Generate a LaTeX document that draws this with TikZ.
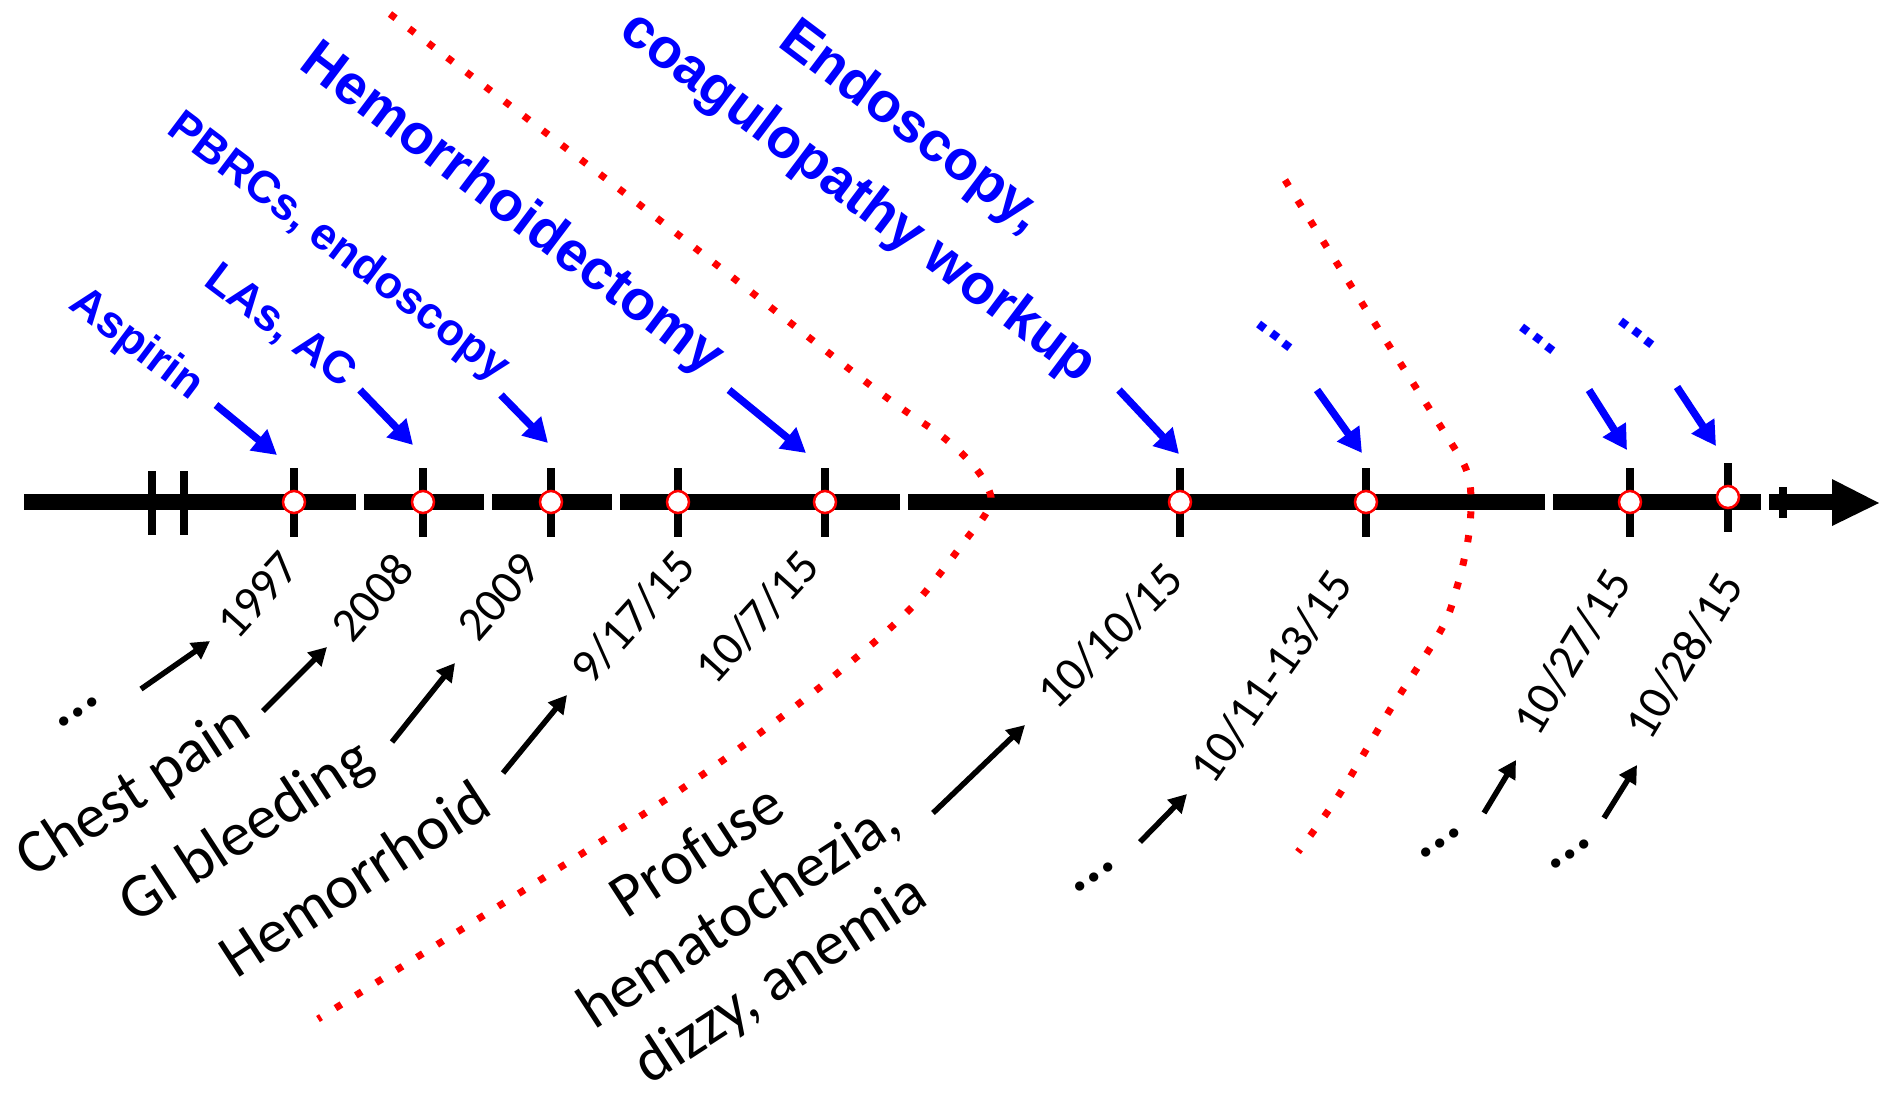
\documentclass[tikz,border=0pt]{standalone}
\usepackage{fontspec}
\setmainfont{Carlito}
\newfontfamily\bluefont{Liberation Sans}
\usetikzlibrary{arrows.meta}

\definecolor{evblue}{RGB}{0,0,255}
\definecolor{evred}{RGB}{255,0,0}

\tikzset{
  axisbar/.style={line width=16pt},
  tickmark/.style={line width=8pt},
  event/.style={circle, draw=evred, fill=white, line width=2.5pt, minimum size=22pt, inner sep=0pt},
  blueptr/.style={draw=evblue, line width=7.5pt, -{Triangle[length=24pt,width=26pt]}},
  blackptr/.style={line width=5.5pt, -{Triangle[length=18pt,width=19pt]}},
  bluelbl/.style={text=evblue, font=\bluefont\bfseries\fontsize{45}{52}\selectfont, rotate=-37, inner sep=0pt},
  bluebig/.style={bluelbl, font=\bluefont\bfseries\fontsize{56}{88}\selectfont, align=center},
  datelbl/.style={font=\fontsize{48}{54}\selectfont, inner sep=0pt},
  eventlbl/.style={font=\fontsize{62}{76}\selectfont, inner sep=0pt, rotate=33, align=center},
  dotsblk/.style={font=\bfseries\fontsize{62}{70}\selectfont, inner sep=0pt, rotate=33},
  redtrail/.style={draw=evred, line width=7pt, dash pattern=on 7pt off 17pt},
}

\begin{document}
\begin{tikzpicture}[x=1pt, y=-1pt]
\useasboundingbox (0,0) rectangle (1880,1096);

% --- time axis, drawn as broken segments ---
\foreach \a/\b in {24/356, 364/484, 492/612, 620/900, 908/1545, 1553/1761, 1769/1834}
  \draw[axisbar] (\a,502) -- (\b,502);
\fill (1832,479) -- (1879,503) -- (1832,526) -- cycle;
\draw[tickmark] (1783,487) -- (1783,518);

% early undated ticks
\draw[tickmark] (152,471) -- (152,535);
\draw[tickmark] (184,471) -- (184,535);

% dated events: tick plus marker
\foreach \n/\x/\y in {1/294/502, 2/423/502, 3/551/502, 4/678/502, 5/825/502, 6/1180/502, 7/1366/502, 8/1630/502, 9/1728/497} {
  \draw[tickmark] (\x,\y-34) -- (\x,\y+35);
  \node[event] (e\n) at (\x,\y) {};
}

% --- red dotted separators ---
\draw[redtrail] plot[smooth, tension=0.55] coordinates {(390,14) (640,205) (870,385) (943,437) (977,470) (991,497) (985,515) (971,533) (912,607) (840,671) (764,730) (686,786) (564,865) (318,1019)};
\draw[redtrail] plot[smooth, tension=0.55] coordinates {(1285,180) (1360,300) (1441,427) (1466,469) (1471,500) (1468,540) (1457,587) (1441,630) (1388,713) (1339,795) (1298,852)};

% --- treatments (blue, above the axis) ---
\node[bluelbl] (t1) at (136,345) {Aspirin};
\node[bluelbl] (t2) at (280,327) {LAs, AC};
\node[bluelbl] (t3) at (338,248) {PBRCs, endoscopy};
\node[bluebig] (t4) at (511,210) {Hemorrhoidectomy};
\node[bluebig] (t5) at (884,163) {Endoscopy,\\coagulopathy workup};
\node[bluebig] (t6) at (1275,336) {...};
\node[bluebig] (t7) at (1538,339) {...};
\node[bluebig] (t8) at (1637,333) {...};

\foreach \n/\sx/\sy/\ex/\ey in {1/216/405/277/455, 2/360/390/413/445, 3/501/395/548/443, 4/729/390/806/453,
                               5/1119/390/1179/454, 6/1317/390/1362/453, 7/1589/390/1627/450, 8/1677/387/1716/446} {
  \coordinate (bs\n) at (\sx,\sy);
  \coordinate (be\n) at (\ex,\ey);
  \draw[blueptr] (bs\n) -- (be\n);
}

% --- dates (below the axis) ---
\node[datelbl, rotate=48] (d1) at (258,595) {1997};
\node[datelbl, rotate=49] (d2) at (372,597) {2008};
\node[datelbl, rotate=49] (d3) at (499,597) {2009};
\node[datelbl, rotate=48] (d4) at (633,617) {9/17/15};
\node[datelbl, rotate=48] (d5) at (757,617) {10/7/15};
\node[datelbl, rotate=45] (d6) at (1110,636) {10/10/15};
\node[datelbl, rotate=55] (d7) at (1271,677) {10/11-13/15};
\node[datelbl, rotate=59] (d8) at (1572,652) {10/27/15};
\node[datelbl, rotate=59] (d9) at (1684,656) {10/28/15};

% --- presentations (black) ---
\node[dotsblk] (p1) at (78,712) {...};
\node[eventlbl] (p2) at (134,793) {Chest pain};
\node[eventlbl] (p3) at (247,833) {GI bleeding};
\node[eventlbl] (p4) at (354,878) {Hemorrhoid};
\node[eventlbl] (p5) at (740,917) {Profuse\\hematochezia,\\dizzy, anemia};
\node[dotsblk] (p6) at (1094,877) {...};
\node[dotsblk] (p7) at (1440,843) {...};
\node[dotsblk] (p8) at (1570,854) {...};

\foreach \n/\sx/\sy/\ex/\ey in {1/141/689/210/641, 2/263/711/327/647, 3/392/742/455/663, 4/503/773/567/695,
                               5/933/813/1025/725, 6/1140/842/1187/794, 7/1484/813/1516/760, 8/1604/818/1637/765} {
  \coordinate (ks\n) at (\sx,\sy);
  \coordinate (ke\n) at (\ex,\ey);
  \draw[blackptr] (ks\n) -- (ke\n);
}
\end{tikzpicture}
\end{document}
